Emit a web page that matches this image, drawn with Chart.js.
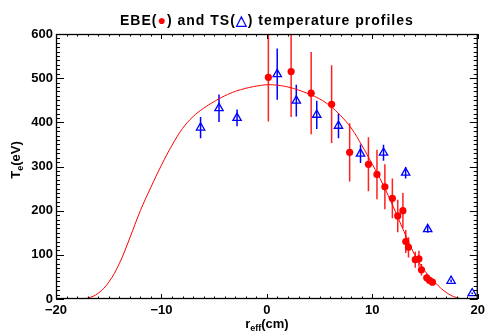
<!DOCTYPE html>
<html><head><meta charset="utf-8">
<script src="https://cdn.jsdelivr.net/npm/chart.js@4/dist/chart.umd.min.js"></script>
<style>html,body{margin:0;padding:0;background:#fff}canvas{display:block}</style>
</head><body>
<canvas id="c" width="489" height="333" style="width:489px;height:333px"></canvas>
<script>
// EBE data (red filled circles)
const ebeR   = [0.14, 2.30, 4.20, 6.14, 7.85, 9.63, 10.44, 11.19, 11.90, 12.41, 12.90, 13.17, 13.43, 14.07, 14.42, 14.66, 15.16, 15.43, 15.70];
const ebeT   = [502, 515, 466, 441, 332, 305, 282, 254, 228, 188, 200, 130, 117, 89, 91, 66, 48, 42, 38];
const ebeErr = [100, 103, 93, 88, 66, 61, 56, 51, 45, 37, 40, 26, 23, 18, 18, 13, 9, 8, 7];
// TS data (blue open triangles)
const tsR   = [-6.29, -4.54, -2.83, 0.98, 2.79, 4.73, 6.79, 8.88, 11.06, 13.16, 15.25, 17.47, 19.47];
const tsT   = [388, 432, 410, 509, 449, 417, 392, 329, 331, 286, 158, 41, 13];
const tsErr = [24, 31, 19, 58, 36, 32, 28, 21, 18, 13, 8, 3, 2];
// Fitted profile (red line)
const fitR = [-20,-19,-18,-17,-16,-15,-14,-13,-12,-11,-10,-9,-8,-7,-6,-5,-4,-3,-2,-1,0,1,2,3,4,5,6,7,8,9,10,11,12,13,14,15,16,17,18,19,20];
const fitT = [0,0,0,2,13,38,80,138,200,253,303,348,386,413,432,447,460,470,477,482,485,484,480,473,464,453,437,415,387,348,305,260,208,153,101,63,36,15,3,0,0];
// Axis ticks
const xTicks = [-20, -10, 0, 10, 20];
const yTicks = [0, 100, 200, 300, 400, 500, 600];

const pts = (xs, ys) => xs.map((v, i) => ({x: v, y: ys[i]}));
const FONT = '"Liberation Sans", Arial, sans-serif';

const errorBars = {
  id: 'errorBars',
  beforeDatasetsDraw(chart) {
    const {ctx, chartArea: a, scales: {x, y}} = chart;
    ctx.save();
    ctx.beginPath();
    ctx.rect(a.left, a.top, a.right - a.left, a.bottom - a.top);
    ctx.clip();
    chart.data.datasets.forEach(ds => {
      if (!ds.err) return;
      ctx.strokeStyle = ds.errColor;
      ctx.lineWidth = 1.5;
      ds.data.forEach((p, i) => {
        const px = x.getPixelForValue(p.x);
        ctx.beginPath();
        ctx.moveTo(px, y.getPixelForValue(p.y - ds.err[i]));
        ctx.lineTo(px, y.getPixelForValue(p.y + ds.err[i]));
        ctx.stroke();
      });
    });
    ctx.restore();
  }
};

const frame = {
  id: 'frame',
  afterDraw(chart) {
    const {ctx, chartArea: a, scales: {x, y}} = chart;
    ctx.save();
    ctx.strokeStyle = '#000';
    ctx.lineWidth = 1.3;
    ctx.strokeRect(a.left + 0.5, a.top + 0.5, a.right - a.left - 1, a.bottom - a.top - 1);
    ctx.lineWidth = 1;
    ctx.beginPath();
    for (let v = -20; v <= 20; v += 1) {
      const px = Math.round(x.getPixelForValue(v)) + 0.5;
      const len = (v % 10 === 0) ? 5 : 2.5;
      ctx.moveTo(px, a.bottom); ctx.lineTo(px, a.bottom - len);
      ctx.moveTo(px, a.top); ctx.lineTo(px, a.top + len);
    }
    for (let v = 0; v <= 600; v += 10) {
      const py = Math.round(y.getPixelForValue(v)) + 0.5;
      const len = (v % 100 === 0) ? 8 : 4;
      ctx.moveTo(a.left, py); ctx.lineTo(a.left + len, py);
      ctx.moveTo(a.right, py); ctx.lineTo(a.right - len, py);
    }
    ctx.stroke();

    // Title with coloured symbols
    const segs = [['EBE(', '#000'], ['\u25CF', '#ff0000'], [') and TS(', '#000'], ['\u25B3', '#0000ff'], [') temperature profiles', '#000']];
    ctx.font = 'bold 14px ' + FONT;
    ctx.letterSpacing = '1px';
    ctx.textBaseline = 'alphabetic';
    ctx.textAlign = 'left';
    let total = 0;
    segs.forEach(s => total += ctx.measureText(s[0]).width);
    let tx = (a.left + a.right) / 2 - total / 2;
    segs.forEach(s => {
      ctx.fillStyle = s[1];
      ctx.fillText(s[0], tx, 25);
      tx += ctx.measureText(s[0]).width;
    });
    ctx.letterSpacing = '0px';

    // X axis title r_eff(cm)
    const cx = (a.left + a.right) / 2;
    const big = 'bold 13px ' + FONT, small = 'bold 9px ' + FONT;
    ctx.fillStyle = '#000';
    ctx.font = big; const w1 = ctx.measureText('r').width, w3 = ctx.measureText('(cm)').width;
    ctx.font = small; const w2 = ctx.measureText('eff').width;
    let sx = cx - (w1 + w2 + w3) / 2;
    const by = 328;
    ctx.font = big; ctx.fillText('r', sx, by); sx += w1;
    ctx.font = small; ctx.fillText('eff', sx, by + 3); sx += w2;
    ctx.font = big; ctx.fillText('(cm)', sx, by);

    // Y axis title T_e(eV)
    ctx.save();
    ctx.translate(20, 160);
    ctx.rotate(-Math.PI / 2);
    ctx.font = big; const v1 = ctx.measureText('T').width, v3 = ctx.measureText('(eV)').width;
    ctx.font = small; const v2 = ctx.measureText('e').width;
    let sy = -(v1 + v2 + v3) / 2;
    ctx.font = big; ctx.fillText('T', sy, 0); sy += v1;
    ctx.font = small; ctx.fillText('e', sy, 3); sy += v2;
    ctx.font = big; ctx.fillText('(eV)', sy, 0);
    ctx.restore();
    ctx.restore();
  }
};

new Chart(document.getElementById('c'), {
  type: 'scatter',
  data: {
    datasets: [
      {
        label: 'fit', type: 'line', data: pts(fitR, fitT),
        borderColor: '#ff0000', borderWidth: 1, pointRadius: 0,
        tension: 0.4, fill: false, order: 3
      },
      {
        label: 'EBE', data: pts(ebeR, ebeT), err: ebeErr, errColor: '#ff2020',
        pointStyle: 'circle', pointRadius: 3.6, backgroundColor: '#ff0000', borderColor: '#ff0000', borderWidth: 0, order: 2
      },
      {
        label: 'TS', data: pts(tsR, tsT), err: tsErr, errColor: '#0000ff',
        pointStyle: 'triangle', pointRadius: 4.8, backgroundColor: 'rgba(0,0,0,0)', borderColor: '#0000ff', borderWidth: 1.3, order: 1
      }
    ]
  },
  options: {
    responsive: false,
    animation: false,
    devicePixelRatio: 1,
    layout: {padding: {top: 34, right: 6, left: 0, bottom: 0}},
    plugins: {legend: {display: false}, tooltip: {enabled: false}, title: {display: false}},
    scales: {
      x: {
        type: 'linear', min: -20, max: 20,
        afterFit: s => { s.height = 34; },
        afterBuildTicks: s => { s.ticks = xTicks.map(v => ({value: v})); },
        grid: {display: false, drawTicks: false},
        border: {display: false},
        ticks: {
          padding: 4, color: '#000', font: {family: FONT, size: 13, weight: 'bold'},
          callback: v => (v < 0 ? '\u2212' + Math.abs(v) : String(v)), maxRotation: 0
        }
      },
      y: {
        type: 'linear', min: 0, max: 600,
        afterFit: s => { s.width = 56; },
        afterBuildTicks: s => { s.ticks = yTicks.map(v => ({value: v})); },
        grid: {display: false, drawTicks: false},
        border: {display: false},
        ticks: {padding: 3, color: '#000', font: {family: FONT, size: 13, weight: 'bold'}}
      }
    }
  },
  plugins: [errorBars, frame]
});
</script>
</body></html>
